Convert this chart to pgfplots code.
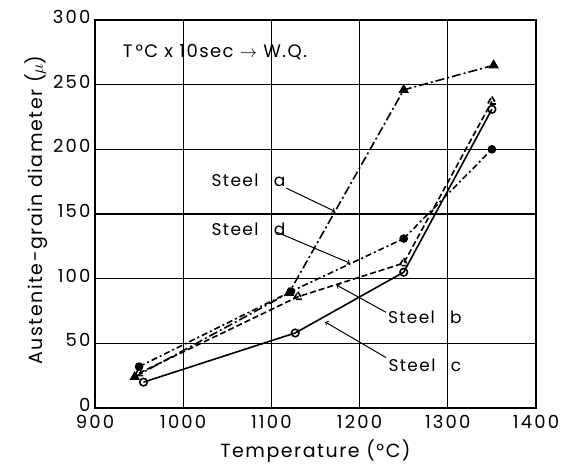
\documentclass[border=0pt]{standalone}
\usepackage{fontspec}
\setmainfont{Poppins}
\newfontfamily\widefont[LetterSpace=8]{Poppins}
\newfontfamily\tickfont[LetterSpace=12]{Poppins}
\usepackage{pgfplots}
\pgfplotsset{compat=1.18}

% Grain size after holding T degC for 10 s and water quenching
\pgfplotstableread{
T    d
945  24
1120 89
1250 246
1352 265
}\steela
\pgfplotstableread{
T    d
950  32
1122 90
1250 131
1350 200
}\steeld
\pgfplotstableread{
T    d
950  27
1130 86
1250 112
1350 237
}\steelb
\pgfplotstableread{
T    d
955  20
1127 58
1250 105
1350 231
}\steelc

\begin{document}
\begin{tikzpicture}[x=1pt,y=1pt]
\begin{axis}[
  at={(0,0)}, anchor=south west,
  scale only axis, width=441pt, height=388pt,
  xmin=900, xmax=1400, ymin=0, ymax=300,
  xtick={900,1000,...,1400}, ytick={0,50,...,300},
  grid=major, major grid style={black, line width=1.2pt},
  axis line style={line width=1.8pt},
  tick style={draw=none},
  /pgf/number format/1000 sep={},
  /pgf/number format/assume math mode=true,
  tick label style={font=\tickfont\fontsize{18}{18}\selectfont},
  xticklabel style={yshift=-4pt},
  yticklabel style={xshift=-1pt, yshift=3pt},
  xlabel={Temperature (°C)}, ylabel={Austenite-grain diameter ($\mu$)},
  label style={font=\widefont\fontsize{19}{19}\selectfont},
  xlabel style={yshift=-4pt},
  ylabel style={yshift=-2pt, xshift=4pt},
  clip=false,
  every axis plot/.append style={black, line width=1.6pt},
  mark options={solid, line width=1pt},
]
\addplot[dash pattern=on 9pt off 3pt on 2pt off 3pt, mark=triangle*, mark size=5pt] table[x=T,y=d] {\steela};
\addplot[dash pattern=on 6pt off 3pt on 2pt off 3pt, mark=*, mark size=3.8pt] table[x=T,y=d] {\steeld};
\addplot[dash pattern=on 6pt off 3pt, mark=triangle, mark size=5pt, mark options={fill=white}] table[x=T,y=d] {\steelb};
\addplot[solid, mark=o, mark size=3.8pt, mark options={fill=white}] table[x=T,y=d] {\steelc};

\node[font=\widefont\fontsize{18}{18}\selectfont] at (axis cs:1036,275) {T\,°C x 10sec $\rightarrow$ W.Q.};

\node[font=\widefont\fontsize{17}{17}\selectfont] at (axis cs:1074,176) {Steel\hspace{0.9em}a};
\draw[->, line width=1pt] (axis cs:1117,170) -- (axis cs:1172,152);
\node[font=\widefont\fontsize{17}{17}\selectfont] at (axis cs:1074,138) {Steel\hspace{0.9em}d};
\draw[->, line width=1pt] (axis cs:1106,136) -- (axis cs:1189,112);
\node[font=\widefont\fontsize{17}{17}\selectfont] at (axis cs:1274,70) {Steel\hspace{0.9em}b};
\draw[->, line width=1pt] (axis cs:1230,74) -- (axis cs:1174,95);
\node[font=\widefont\fontsize{17}{17}\selectfont] at (axis cs:1274,33) {Steel\hspace{0.9em}c};
\draw[->, line width=1pt] (axis cs:1230,39) -- (axis cs:1161,66.5);
\end{axis}
\path (-95,-64) rectangle (468,408);
\end{tikzpicture}
\end{document}
